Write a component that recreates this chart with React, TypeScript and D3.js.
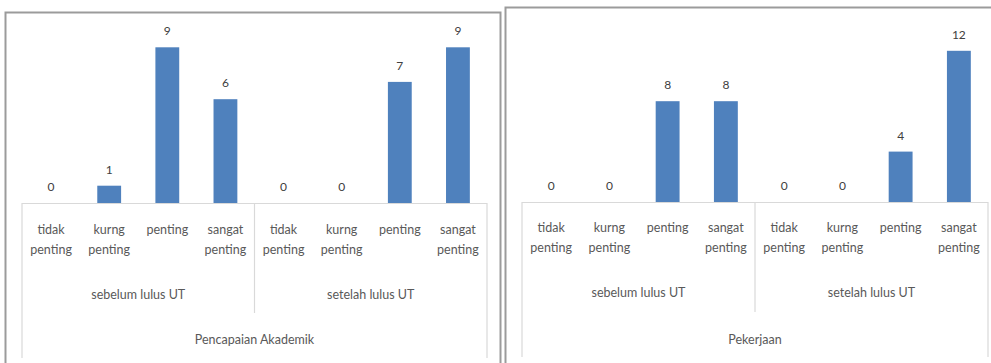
import React from "react";
import * as d3 from "d3";

const categories = ["tidak|penting", "kurng|penting", "penting", "sangat|penting"];
const groups = ["sebelum lulus UT", "setelah lulus UT"];
const akademikValues = [0, 1, 9, 6, 0, 0, 7, 9];
const pekerjaanValues = [0, 0, 8, 8, 0, 0, 4, 12];
const titles = ["Pencapaian Akademik", "Pekerjaan"];

const FONT = "Lato, 'Open Sans', sans-serif";
const BAR = "#4f81bd";

type PanelProps = {
  frame: { x: number; y: number; w: number; h: number };
  axisX0: number;
  axisX1: number;
  baseY: number;
  topY: number;
  yMax: number;
  values: number[];
  title: string;
  catY1: number;
  groupY: number;
  titleY: number;
  dividerBottom: number;
  outerBottom: number;
};

function Panel(p: PanelProps) {
  const keys = groups.flatMap((g, gi) => categories.map((c, ci) => `${gi}-${ci}`));
  const x = d3.scaleBand<string>().domain(keys).range([p.axisX0, p.axisX1]).padding(0);
  const y = d3.scaleLinear().domain([0, p.yMax]).range([p.baseY, p.topY]);
  const bw = x.step() * 0.41;
  const groupScale = d3.scaleBand<string>().domain(groups).range([p.axisX0, p.axisX1]);
  const lineColor = "#d9d9d9";
  return (
    <g>
      <rect x={p.frame.x} y={p.frame.y} width={p.frame.w} height={p.frame.h} fill="#fff" stroke="#9b9b9b" strokeWidth={2} />
      {p.values.map((v, i) => {
        const cx = (x(keys[i]) as number) + x.bandwidth() / 2;
        return (
          <g key={i}>
            {v > 0 && (
              <rect x={cx - bw / 2} y={y(v)} width={bw} height={p.baseY - y(v)} fill={BAR} />
            )}
            <text x={cx} y={y(v) - 12} textAnchor="middle" fontFamily={FONT} fontSize={12} fill="#404040">
              {v}
            </text>
          </g>
        );
      })}
      <line x1={p.axisX0} x2={p.axisX1} y1={p.baseY + 0.5} y2={p.baseY + 0.5} stroke={lineColor} strokeWidth={1.2} />
      <line x1={p.axisX0} x2={p.axisX0} y1={p.baseY} y2={p.outerBottom} stroke={lineColor} strokeWidth={1.2} />
      <line x1={p.axisX1} x2={p.axisX1} y1={p.baseY} y2={p.outerBottom} stroke={lineColor} strokeWidth={1.2} />
      {groups.slice(1).map((g) => (
        <line key={g} x1={groupScale(g)} x2={groupScale(g)} y1={p.baseY} y2={p.dividerBottom} stroke={lineColor} strokeWidth={1.2} />
      ))}
      {keys.map((k, i) => {
        const cx = (x(k) as number) + x.bandwidth() / 2;
        const lines = categories[i % 4].split("|");
        return (
          <text key={k} x={cx} y={p.catY1} textAnchor="middle" fontFamily={FONT} fontSize={12.5} fill="#595959">
            {lines.map((l, li) => (
              <tspan key={li} x={cx} dy={li === 0 ? 0 : 20}>
                {l}
              </tspan>
            ))}
          </text>
        );
      })}
      {groups.map((g) => (
        <text key={g} x={(groupScale(g) as number) + groupScale.bandwidth() / 2} y={p.groupY} textAnchor="middle" fontFamily={FONT} fontSize={12.5} fill="#595959">
          {g}
        </text>
      ))}
      <text x={(p.axisX0 + p.axisX1) / 2} y={p.titleY} textAnchor="middle" fontFamily={FONT} fontSize={12.5} fill="#595959">
        {p.title}
      </text>
    </g>
  );
}

export default function App() {
  return (
    <svg width={991} height={363} style={{ position: "absolute", left: 0, top: 0 }}>
      <rect width={991} height={363} fill="#fff" />
      <Panel
        frame={{ x: 5.5, y: 12.5, w: 495, h: 360 }}
        axisX0={22}
        axisX1={487}
        baseY={203}
        topY={30}
        yMax={10}
        values={akademikValues}
        title={titles[0]}
        catY1={234}
        groupY={299}
        titleY={344}
        dividerBottom={313}
        outerBottom={358}
      />
      <Panel
        frame={{ x: 505.5, y: 7.5, w: 495, h: 365 }}
        axisX0={522}
        axisX1={988}
        baseY={202}
        topY={25.6}
        yMax={14}
        values={pekerjaanValues}
        title={titles[1]}
        catY1={232}
        groupY={297}
        titleY={344}
        dividerBottom={312}
        outerBottom={357}
      />
    </svg>
  );
}
